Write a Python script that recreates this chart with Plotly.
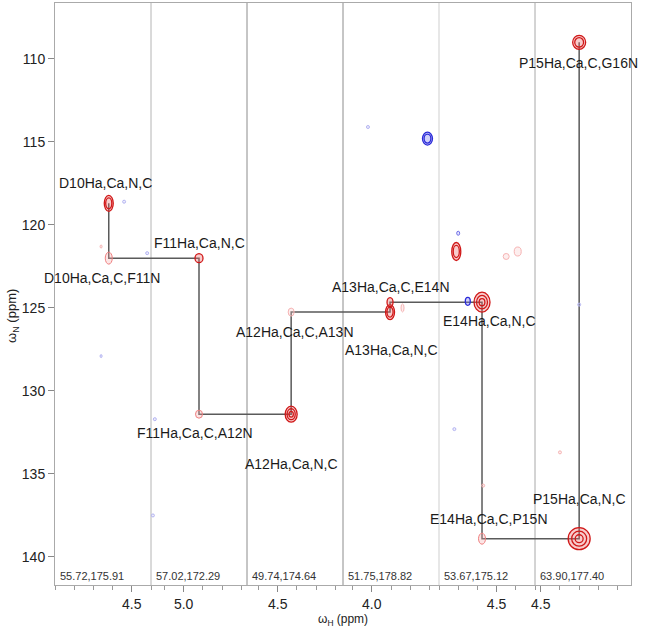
import plotly.graph_objects as go

# ---------------- data ----------------
strip_residues = ["D10", "F11", "A12", "A13", "E14", "P15"]
strip_shift_labels = ["55.72,175.91", "57.02,172.29", "49.74,174.64",
                      "51.75,178.82", "53.67,175.12", "63.90,177.40"]
strip_h_high = [4.90, 5.17, 4.66, 4.15, 4.80, 4.53]   # left (high ppm) edge of each strip
STRIP_H_WIDTH = 0.5
n_ticks = [110, 115, 120, 125, 130, 135, 140]

# assigned peaks along the sequential walk
peak_labels = ["D10Ha,Ca,N,C", "D10Ha,Ca,C,F11N", "F11Ha,Ca,N,C", "F11Ha,Ca,C,A12N",
               "A12Ha,Ca,N,C", "A12Ha,Ca,C,A13N", "A13Ha,Ca,N,C", "A13Ha,Ca,C,E14N",
               "E14Ha,Ca,N,C", "E14Ha,Ca,C,P15N", "P15Ha,Ca,N,C", "P15Ha,Ca,C,G16N"]
peak_strip = [0, 0, 1, 1, 2, 2, 3, 3, 4, 4, 5, 5]
peak_h = [4.62, 4.62, 4.92, 4.92, 4.43, 4.43, 3.905, 3.905, 4.576, 4.576, 4.30, 4.30]
peak_n = [118.7, 122.0, 122.0, 131.4, 131.4, 125.25, 125.25, 124.65, 124.65, 138.9, 138.9, 109.0]

# unassigned peaks (sign: +1 positive/red, -1 negative/blue)
other_strip = [3, 4, 4, 4, 4, 4, 3, 0, 0, 0, 0, 1, 1, 3, 4, 5, 4, 5]
other_h = [3.71, 4.71, 4.65, 4.70, 4.39, 4.45, 3.84, 4.66, 4.54, 4.42, 4.66, 5.15, 5.16, 4.02, 4.72, 4.30, 4.57, 4.40]
other_n = [114.8, 121.6, 124.6, 120.5, 121.6, 121.9, 125.0, 121.3, 118.6, 121.7, 127.9, 131.7, 137.5, 114.1, 132.3, 124.8, 135.7, 133.7]
other_sign = [-1, 1, -1, -1, 1, 1, 1, 1, -1, -1, -1, -1, -1, -1, -1, -1, 1, 1]

# ---------------- styles ----------------
W, H = 645, 631
ML, MR, MT, MB = 55, 14, 3, 46
Y_RANGE = [141.69, 106.63]
PX_X = (W - ML - MR) / len(strip_residues)        # px per strip unit
PX_Y = (H - MT - MB) / (Y_RANGE[0] - Y_RANGE[1])  # px per ppm N

# (width px, height px, rings, strength) for each assigned peak
peak_style = [(9, 16, 2, 2), (7, 12, 1, 1), (8, 9, 1, 2), (7, 8, 1, 1),
              (12, 16, 3, 2), (6, 8, 1, 0), (9, 15, 2, 2), (6, 9, 1, 2),
              (16, 20, 3, 2), (7, 11, 1, 1), (22, 22, 3, 2), (13, 14, 2, 2)]
other_style = [(10, 13, 2, 2), (9, 18, 2, 2), (5, 8, 1, 2), (3, 4, 1, 1), (7, 9, 1, 0), (6, 6, 1, 0),
               (3, 8, 1, 0), (2, 3, 1, 0), (3, 3, 1, 0), (3, 3, 1, 0), (2, 3, 1, 0), (3, 3, 1, 0),
               (3, 3, 1, 0), (3, 3, 1, 0), (3, 3, 1, 0), (3, 3, 1, 0), (3, 3, 1, 0), (3, 3, 1, 0)]
# label offsets (xshift, yshift) in px
label_offsets = [(-3, 20), (-7, -20), (0, 15), (-4, -19), (0, -50), (4, -20),
                 (1, -38), (1, 15), (7, -19), (7, 20), (0, 40), (-1, -21)]
divider_colors = ["#b4b4b4", "#8c8c8c", "#8c8c8c", "#cfcfcf", "#a8a8a8"]
FONT = "Liberation Sans, Arial, sans-serif"


def sx(s, h):
    return s + (strip_h_high[s] - h) / STRIP_H_WIDTH


fig = go.Figure()

# sequential walk line
walk_x = [sx(s, h) for s, h in zip(peak_strip, peak_h)]
fig.add_trace(go.Scatter(x=walk_x, y=peak_n, mode="lines",
                         line=dict(color="#5a5a5a", width=1.5),
                         hoverinfo="skip", showlegend=False))

shapes = []
red_cols = {2: ("#d01818", "rgba(235,110,110,0.35)"), 1: ("#ef7f7f", "rgba(245,170,170,0.3)"),
            0: ("#f6b3b3", "rgba(248,200,200,0.3)")}
blue_cols = {2: ("#2a2ad8", "rgba(120,120,240,0.35)"), 1: ("#6f6fe8", "rgba(170,170,245,0.3)"),
             0: ("#b4b4f2", "rgba(200,200,248,0.3)")}


def add_peak(xc, yc, style, cols):
    w, h, rings, strength = style
    line_c, fill_c = cols[strength]
    for k in range(rings):
        f = 1.0 - k * 0.32
        dx = w * f / 2 / PX_X
        dy = h * f / 2 / PX_Y
        shapes.append(dict(type="circle", xref="x", yref="y",
                           x0=xc - dx, x1=xc + dx, y0=yc - dy, y1=yc + dy,
                           line=dict(color=line_c, width=1.3 if strength == 2 else 1),
                           fillcolor=fill_c if k == 0 else "rgba(0,0,0,0)",
                           layer="above"))


for i in range(len(peak_labels)):
    add_peak(walk_x[i], peak_n[i], peak_style[i], red_cols)
for i in range(len(other_h)):
    add_peak(sx(other_strip[i], other_h[i]), other_n[i], other_style[i],
             red_cols if other_sign[i] > 0 else blue_cols)

# strip dividers
for i in range(1, len(strip_residues)):
    shapes.append(dict(type="line", xref="x", yref="paper", x0=i, x1=i, y0=0, y1=1,
                       line=dict(color=divider_colors[i - 1], width=1), layer="below"))

annotations = []
for i, lab in enumerate(peak_labels):
    xo, yo = label_offsets[i]
    annotations.append(dict(x=walk_x[i], y=peak_n[i], text=lab, showarrow=False,
                            xshift=xo, yshift=yo, xanchor="center", yanchor="middle",
                            font=dict(size=14, color="#1a1a1a", family=FONT)))
for i, lab in enumerate(strip_shift_labels):
    annotations.append(dict(x=i, y=0, xref="x", yref="paper", text=lab, showarrow=False,
                            xanchor="left", yanchor="bottom", xshift=3, yshift=1,
                            font=dict(size=11, color="#333333", family=FONT)))
# axis titles
annotations.append(dict(x=0.5, y=0, xref="paper", yref="paper", text="ω<sub>H</sub> (ppm)",
                        showarrow=False, xanchor="center", yanchor="middle", yshift=-35,
                        font=dict(size=12, color="#222222", family=FONT)))
annotations.append(dict(x=0, y=0.5, xref="paper", yref="paper", text="ω<sub>N</sub> (ppm)",
                        showarrow=False, xanchor="center", yanchor="middle", xshift=-43,
                        yshift=-22, textangle=-90,
                        font=dict(size=13, color="#222222", family=FONT)))

# x ticks per strip
tickvals, ticktext, minorvals = [], [], []
for s in range(len(strip_residues)):
    hi = strip_h_high[s]
    lo = hi - STRIP_H_WIDTH
    k = int(lo * 10) - 1
    while k / 10 <= hi + 1e-9:
        v = k / 10
        if lo - 1e-9 <= v <= hi + 1e-9:
            if k % 5 == 0:
                tickvals.append(sx(s, v))
                ticktext.append(f"{v:.1f}")
            else:
                minorvals.append(sx(s, v))
        k += 1

fig.update_layout(
    width=W, height=H,
    margin=dict(l=ML, r=MR, t=MT, b=MB),
    paper_bgcolor="white", plot_bgcolor="white",
    font=dict(family=FONT, size=14, color="#222222"),
    shapes=shapes, annotations=annotations,
    showlegend=False,
    xaxis=dict(range=[0, len(strip_residues)], tickmode="array", tickvals=tickvals,
               ticktext=ticktext, ticks="outside", ticklen=6, tickcolor="#888888",
               showgrid=False, zeroline=False, showline=True, linecolor="#aaaaaa",
               mirror=True, tickfont=dict(size=14), automargin=False,
               minor=dict(tickmode="array", tickvals=minorvals, ticks="outside",
                          ticklen=4, tickcolor="#999999", showgrid=False)),
    yaxis=dict(range=Y_RANGE, tickmode="array", tickvals=n_ticks, ticks="outside",
               ticklen=6, tickcolor="#888888", showgrid=False, zeroline=False,
               showline=True, linecolor="#aaaaaa", mirror=True, tickfont=dict(size=14),
               automargin=False),
)

fig.write_html("out.html", config={"displayModeBar": False},
               post_script="document.body.style.margin='0';")
